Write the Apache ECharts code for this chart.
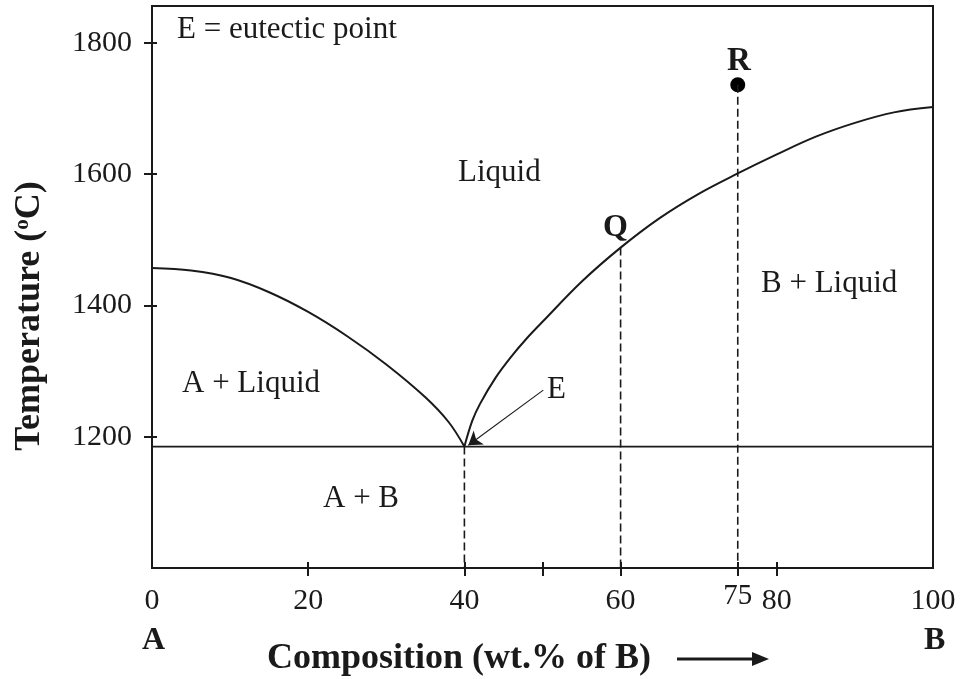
<!DOCTYPE html>
<html>
<head>
<meta charset="utf-8">
<script src="https://cdn.jsdelivr.net/npm/echarts@6/dist/echarts.min.js"></script>
<style>
  html, body { margin: 0; background: #fff; }
  #chart { width: 960px; height: 679px; }
</style>
</head>
<body>
<div id="chart"></div>
<script>
// liquidus curves, [wt.% B, temperature °C]
const liquidusA = [[0, 1457], [5, 1453], [10, 1442], [15, 1420], [20, 1390], [25, 1353], [30, 1310], [35, 1260], [38, 1222], [40, 1185]]
const liquidusB = [[40, 1185], [41, 1224], [42, 1250], [44, 1290], [46, 1322], [48, 1350], [50, 1375], [55, 1436], [60, 1488], [65, 1533], [70, 1570], [75, 1601], [80, 1630], [85, 1657], [90, 1678], [95, 1694], [100, 1702]]
const eutecticT = 1185
const eutecticX = 40
const pointQ = [60, 1488]
const pointR = [75, 1736]
const arrowFrom = [50.1, 1271]
const arrowTo = [40.5, 1187]
const xTicks = [20, 40, 50, 60, 75, 80]
const xLabels = [0, 20, 40, 60, 80, 100]
const xExtraLabel = [75]
const yTicks = [1200, 1400, 1600, 1800]

const ink = '#1a1a1a'
const serif = 'Liberation Serif'

const chart = echarts.init(document.getElementById('chart'))

const dashed = { color: ink, width: 1.6, type: [8, 4] }
const plain = v => String(v)

const option = {
  animation: false,
  grid: {
    left: 152, right: 27, top: 6, bottom: 111,
    show: true, borderColor: ink, borderWidth: 2,
    outerBoundsMode: 'none'
  },
  xAxis: [
    {
      type: 'value', min: 0, max: 100, position: 'bottom',
      axisLine: { lineStyle: { color: ink, width: 2 } },
      axisTick: { customValues: xTicks, length: 8, lineStyle: { color: ink, width: 2 } },
      axisLabel: { customValues: xLabels, formatter: plain, margin: 18, fontFamily: serif, fontSize: 30, color: ink },
      splitLine: { show: false }
    },
    {
      type: 'value', min: 0, max: 100, position: 'bottom',
      axisLine: { show: false },
      axisTick: { customValues: xTicks, inside: true, length: 6, lineStyle: { color: ink, width: 2 } },
      axisLabel: { customValues: xExtraLabel, formatter: plain, margin: 14, fontFamily: serif, fontSize: 29, color: ink },
      splitLine: { show: false }
    }
  ],
  yAxis: [
    {
      type: 'value', min: 1000, max: 1856, position: 'left',
      axisLine: { show: true, lineStyle: { color: ink, width: 2 } },
      axisTick: { show: true, customValues: yTicks, length: 8, lineStyle: { color: ink, width: 2 } },
      axisLabel: { customValues: yTicks, formatter: plain, margin: 20, fontFamily: serif, fontSize: 30, color: ink },
      splitLine: { show: false }
    },
    {
      type: 'value', min: 1000, max: 1856, position: 'left',
      axisLine: { show: false },
      axisTick: { show: true, customValues: yTicks, inside: true, length: 5, lineStyle: { color: ink, width: 2 } },
      axisLabel: { show: false },
      splitLine: { show: false }
    }
  ],
  series: [
    {
      name: 'liquidus A', type: 'line', data: liquidusA, smooth: 0.35,
      symbol: 'none', lineStyle: { color: ink, width: 2 }
    },
    {
      name: 'liquidus B', type: 'line', data: liquidusB, smooth: 0.35,
      symbol: 'none', lineStyle: { color: ink, width: 2 }
    },
    {
      name: 'eutectic', type: 'line', data: [[0, eutecticT], [100, eutecticT]],
      symbol: 'none', lineStyle: { color: ink, width: 1.8 }
    },
    {
      name: 'drop E', type: 'line', data: [[eutecticX, eutecticT], [eutecticX, 1000]],
      symbol: 'none', lineStyle: dashed
    },
    {
      name: 'drop Q', type: 'line', data: [pointQ, [pointQ[0], 1000]],
      symbol: 'none', lineStyle: dashed
    },
    {
      name: 'drop R', type: 'line', data: [pointR, [pointR[0], 1000]],
      symbol: 'none', lineStyle: dashed,
      markLine: {
        silent: true, symbol: ['none', 'arrow'], symbolSize: 13,
        label: { show: false },
        lineStyle: { color: ink, width: 1.1, type: 'solid' },
        data: [[{ coord: arrowFrom }, { coord: arrowTo }]]
      }
    },
    {
      name: 'R', type: 'scatter', data: [pointR], symbolSize: 15,
      itemStyle: { color: '#000', opacity: 1 }
    }
  ],
  graphic: [
    { type: 'text', left: 177, top: 14, style: { text: 'E = eutectic point', font: '31px "Liberation Serif"', fill: ink } },
    { type: 'text', left: 458, top: 157, style: { text: 'Liquid', font: '31px "Liberation Serif"', fill: ink } },
    { type: 'text', left: 182, top: 368, style: { text: 'A + Liquid', font: '31px "Liberation Serif"', fill: ink } },
    { type: 'text', left: 323, top: 483, style: { text: 'A + B', font: '31px "Liberation Serif"', fill: ink } },
    { type: 'text', left: 761, top: 268, style: { text: 'B + Liquid', font: '31px "Liberation Serif"', fill: ink } },
    { type: 'text', left: 547, top: 374, style: { text: 'E', font: '31px "Liberation Serif"', fill: ink } },
    { type: 'text', left: 603, top: 212, style: { text: 'Q', font: 'bold 32px "Liberation Serif"', fill: ink } },
    { type: 'text', left: 727, top: 45, style: { text: 'R', font: 'bold 33px "Liberation Serif"', fill: ink } },
    { type: 'text', left: 142, top: 625, style: { text: 'A', font: 'bold 32px "Liberation Serif"', fill: ink } },
    { type: 'text', left: 924, top: 625, style: { text: 'B', font: 'bold 32px "Liberation Serif"', fill: ink } },
    {
      type: 'text', left: 267, top: 641,
      style: { text: 'Composition (wt.% of B)', font: 'bold 36px "Liberation Serif"', fill: ink }
    },
    { type: 'line', shape: { x1: 677, y1: 659, x2: 754, y2: 659 }, style: { stroke: ink, lineWidth: 3 } },
    { type: 'polygon', shape: { points: [[752, 652], [769, 659], [752, 666]] }, style: { fill: ink } },
    {
      type: 'text', x: 30, y: 316, rotation: Math.PI / 2,
      style: {
        text: 'Temperature ({sup|o}C)',
        font: 'bold 36px "Liberation Serif"', fill: ink,
        align: 'center', verticalAlign: 'middle',
        rich: { sup: { fontSize: 21, fontWeight: 'bold', fontFamily: serif, verticalAlign: 'top', fill: ink } }
      }
    }
  ]
}

chart.setOption(option)
</script>
</body>
</html>
